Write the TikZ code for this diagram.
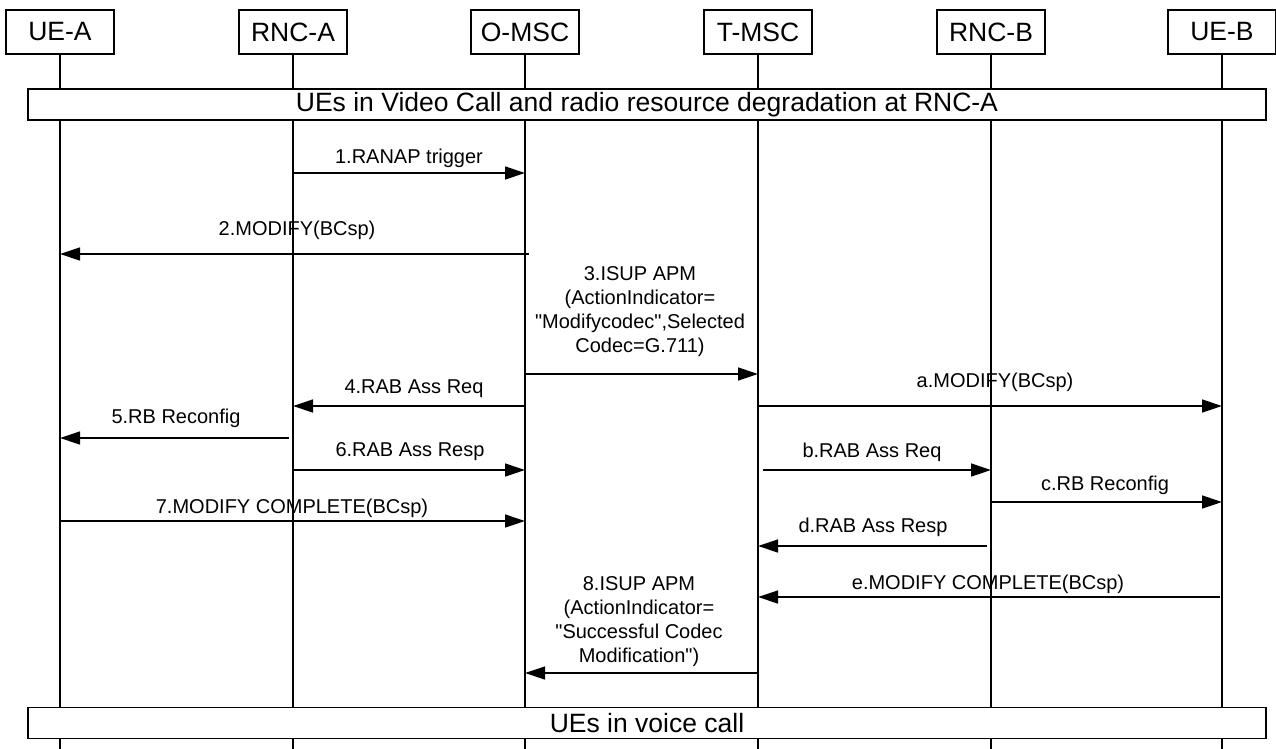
\documentclass[tikz,border=0pt]{standalone}
\usepackage{fontspec}
\setmainfont{Liberation Sans}[Ligatures=TeXOff]
\usetikzlibrary{arrows.meta}
\tikzset{
  ent/.style={draw, line width=1.2pt, minimum width=108pt, minimum height=44pt, inner sep=0pt, font=\fontsize{26.5}{28}\selectfont, fill=white},
  life/.style={line width=1.2pt},
  band/.style={draw, line width=1.2pt, fill=white, minimum width=1238pt, minimum height=31pt, inner sep=0pt, font=\fontsize{26.5}{28}\selectfont},
  msg/.style={line width=1.3pt, -{Triangle[length=20pt,width=13pt]}},
  lbl/.style={inner sep=0pt, align=center, font=\fontsize{20}{24}\selectfont}
}
\begin{document}
\begin{tikzpicture}[x=1pt,y=-1pt]
\useasboundingbox (0,0) rectangle (1276,749);
% entities
\node[ent] (ueA)  at (60,32)   {UE-A};
\node[ent] (rncA) at (293,32)  {RNC-A};
\node[ent] (omsc) at (525,32)  {O-MSC};
\node[ent] (tmsc) at (758,32)  {T-MSC};
\node[ent] (rncB) at (991,32)  {RNC-B};
\node[ent] (ueB)  at (1222,32) {UE-B};
% lifeline ends
\coordinate (ueAe)  at (60,749);
\coordinate (rncAe) at (293,749);
\coordinate (omsce) at (525,749);
\coordinate (tmsce) at (758,749);
\coordinate (rncBe) at (991,749);
\coordinate (ueBe)  at (1222,749);
\foreach \n in {ueA,rncA,omsc,tmsc,rncB,ueB} \draw[life] (\n.south) -- (\n e);
% bands
\node[band] (vid) at (647,104.5) {UEs in Video Call and radio resource degradation at RNC-A};
\node[band] (voice) at (647,723) {UEs in voice call};
% messages
\draw[msg] (rncA |- 0,173) -- (omsc |- 0,173);
\node[lbl] (l1) at (409,158) {1.RANAP trigger};
\draw[msg] ([xshift=4pt]omsc |- 0,254) -- (ueA |- 0,254);
\node[lbl] (l2) at (297,230) {2.MODIFY(BCsp)};
\draw[msg] (omsc |- 0,374) -- (tmsc |- 0,374);
\node[lbl] (l3) at (640,311.5) {3.ISUP APM\\(ActionIndicator=\\"Modifycodec",Selected\\Codec=G.711)};
\draw[msg] (omsc |- 0,406) -- (rncA |- 0,406);
\node[lbl] (l4) at (414,389) {4.RAB Ass Req};
\draw[msg] (tmsc |- 0,406) -- (ueB |- 0,406);
\node[lbl] (la) at (995,382) {a.MODIFY(BCsp)};
\draw[msg] ([xshift=-4pt]rncA |- 0,438) -- (ueA |- 0,438);
\node[lbl] (l5) at (176,418) {5.RB Reconfig};
\draw[msg] (rncA |- 0,470) -- (omsc |- 0,470);
\node[lbl] (l6) at (410,452) {6.RAB Ass Resp};
\draw[msg] ([xshift=5pt]tmsc |- 0,470) -- (rncB |- 0,470);
\node[lbl] (lb) at (872,452) {b.RAB Ass Req};
\draw[msg] (rncB |- 0,502) -- (ueB |- 0,502);
\node[lbl] (lc) at (1105,485) {c.RB Reconfig};
\draw[msg] (ueA |- 0,521) -- (omsc |- 0,521);
\node[lbl] (l7) at (292,508) {7.MODIFY COMPLETE(BCsp)};
\draw[msg] ([xshift=-4pt]rncB |- 0,546) -- (tmsc |- 0,546);
\node[lbl] (ld) at (873,527) {d.RAB Ass Resp};
\draw[msg] ([xshift=-2pt]ueB |- 0,597) -- (tmsc |- 0,597);
\node[lbl] (le) at (988,584) {e.MODIFY COMPLETE(BCsp)};
\draw[msg] (tmsc |- 0,673) -- (omsc |- 0,673);
\node[lbl] (l8) at (639,622) {8.ISUP APM\\(ActionIndicator=\\"Successful Codec\\Modification")};
\end{tikzpicture}
\end{document}
